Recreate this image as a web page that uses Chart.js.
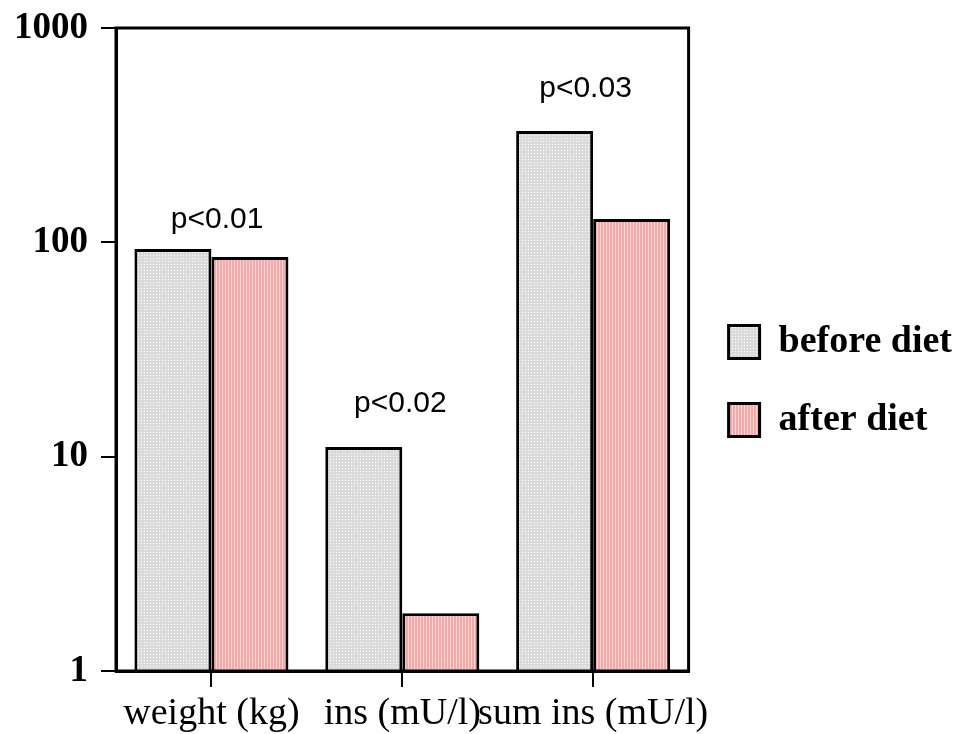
<!DOCTYPE html>
<html>
<head>
<meta charset="utf-8">
<script src="https://cdn.jsdelivr.net/npm/chart.js@4.4.1/dist/chart.umd.min.js"></script>
<style>
  html, body { margin: 0; background: #fff; overflow: hidden; }
  canvas { display: block; }
</style>
</head>
<body>
<canvas id="myChart" width="976" height="734"></canvas>
<script>
const categorias = ["weight (kg)", "ins (mU/l)", "sum ins (mU/l)"];
const antesDieta = [93, 11.1, 331];
const despuesDieta = [85.5, 1.86, 128.6];
const ticksY = [1, 10, 100, 1000];
const textosP = ["p<0.01", "p<0.02", "p<0.03"];
const posicionPX = [0.03, 0.99, 1.96];
const posicionPY = [117, 16.2, 477];

//FUNCION PARA HACER LA TEXTURA DE LAS BARRAS
function textura(fondo, detalle, tipo) {
  const c = document.createElement("canvas");
  c.width = 3;
  c.height = 3;
  const g = c.getContext("2d");
  g.fillStyle = fondo;
  g.fillRect(0, 0, 3, 3);
  g.fillStyle = detalle;
  if (tipo === "puntos") {
    g.fillRect(0, 0, 1, 1);
  } else {
    g.fillRect(0, 0, 1, 3);
  }
  return g.createPattern(c, "repeat");
}

const gris = textura("#dadada", "#ffffff", "puntos");
const rosa = textura("#f4a9a9", "#fcd6d6", "rayas");

//PLUGIN PARA EL MARCO Y LOS VALORES P
const marcoYTextos = {
  id: "marcoYTextos",
  afterDraw(chart) {
    const { ctx, chartArea, scales } = chart;
    ctx.save();
    ctx.strokeStyle = "#000";
    ctx.lineWidth = 3;
    ctx.strokeRect(chartArea.left, chartArea.top, chartArea.right - chartArea.left, chartArea.bottom - chartArea.top);
    ctx.fillStyle = "#000";
    ctx.font = "30px 'Liberation Sans', Arial, sans-serif";
    ctx.textAlign = "center";
    ctx.textBaseline = "alphabetic";
    textosP.forEach((t, i) => {
      ctx.fillText(t, scales.x.getPixelForValue(posicionPX[i]), scales.y.getPixelForValue(posicionPY[i]));
    });
    ctx.restore();
  },
};

//FUNCION GRAFICO
function graficoChart() {
  const ctx = document.getElementById("myChart").getContext("2d");

  const myChart = new Chart(ctx, {
    type: "bar",
    data: {
      labels: categorias,
      datasets: [
        {
          label: "before diet",
          data: antesDieta,
          backgroundColor: gris,
          borderColor: "#000",
          borderWidth: 3,
        },
        {
          label: "after diet",
          data: despuesDieta,
          backgroundColor: rosa,
          borderColor: "#000",
          borderWidth: 3,
        },
      ],
    },
    options: {
      responsive: false,
      animation: false,
      layout: { padding: { top: 28, right: 14, left: 0, bottom: 0 } },
      datasets: {
        bar: { categoryPercentage: 0.807, barPercentage: 1 },
      },
      plugins: {
        tooltip: { enabled: false },
        legend: {
          position: "right",
          maxWidth: 330,
          labels: {
            boxWidth: 31,
            boxHeight: 33,
            padding: 40,
            color: "#000",
            font: { family: "'Liberation Serif', 'Times New Roman', serif", size: 38, weight: "bold" },
          },
        },
      },
      scales: {
        x: {
          afterFit: (s) => { s.height = 63; },
          grid: { drawOnChartArea: false, offset: false, tickLength: 16, color: "#000", lineWidth: 2 },
          border: { color: "#000", width: 3 },
          ticks: {
            color: "#000",
            padding: 6,
            maxRotation: 0,
            autoSkip: false,
            font: { family: "'Liberation Serif', 'Times New Roman', serif", size: 38, lineHeight: 1.1 },
          },
        },
        y: {
          type: "logarithmic",
          min: 1,
          max: 1000,
          afterFit: (s) => { s.width = 116; },
          afterBuildTicks: (s) => { s.ticks = ticksY.map((v) => ({ value: v })); },
          grid: { drawOnChartArea: false, tickLength: 15, color: "#000", lineWidth: 2 },
          border: { color: "#000", width: 3 },
          ticks: {
            color: "#000",
            padding: 13,
            callback: (v) => String(v),
            font: { family: "'Liberation Serif', 'Times New Roman', serif", size: 37, weight: "bold", lineHeight: 0.8 },
          },
        },
      },
    },
    plugins: [marcoYTextos],
  });
}

window.onload = function () {
  graficoChart();
};
</script>
</body>
</html>
